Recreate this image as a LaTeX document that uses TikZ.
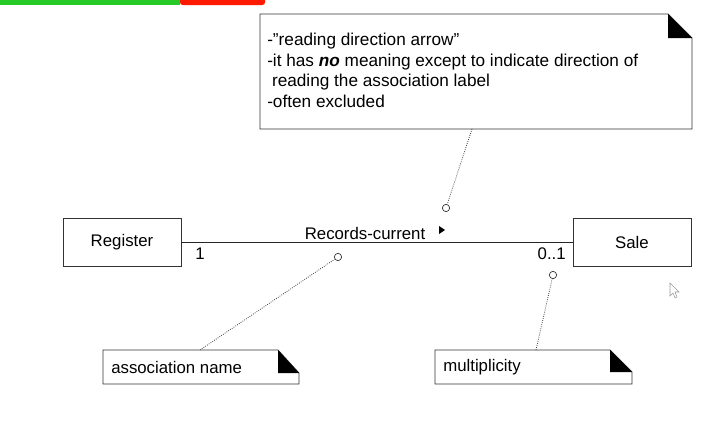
\documentclass[tikz,border=0pt]{standalone}
\usepackage{fontspec}
\setmainfont{Liberation Sans}
\begin{document}
\begin{tikzpicture}[x=0.75pt,y=-0.75pt,
    cls/.style={draw=black!80, line width=0.6pt, minimum width=88.5pt, minimum height=36pt, inner sep=0pt, font=\fontsize{12.6}{14}\selectfont},
    lbl/.style={inner sep=0pt, font=\fontsize{12.6}{14}\selectfont},
    hole/.style={circle, draw=black!80, line width=0.5pt, inner sep=0pt, minimum size=5.5pt},
    link/.style={densely dotted, line width=0.6pt, black!75}]
    \useasboundingbox (0,0) rectangle (708,439);
    % toolbar strip
    \fill[green!75!black!85!white] (0,0) rectangle (180,5);
    \fill[red!80!orange, rounded corners=2pt] (180,-3) rectangle (265,5);

    % top note
    \draw[black!80, line width=0.6pt] (260,14) -- (668,14) -- (692,38) -- (692,129) -- (260,129) -- cycle;
    \fill[black] (668,14) -- (692,38) -- (668,38) -- cycle;
    \node[lbl, anchor=north west, align=left, font=\fontsize{12.9}{15.4}\selectfont] (notetxt) at (267,33)
        {-''reading direction arrow''\\
         -it has \textbf{\textit{no}} meaning except to indicate direction of\\
         \ reading the association label\\
         -often excluded};
    \coordinate (notefoot) at (472,129);

    % classes
    \node[cls] (register) at (122,242) {Register};
    \node[cls] (sale) at (632,242) {Sale};
    \draw[black!85, line width=0.7pt] (register) -- (sale);
    \node[lbl] (multone) at (200,254) {1};
    \node[lbl, anchor=east] (multzero) at (566,254) {0..1};
    \node[lbl] (assocname) at (365,233) {Records-current};
    \fill[black] (439,226) -- (445,230) -- (439,234) -- cycle;

    % anchors on the association
    \node[hole] (dirhole) at (446,208) {};
    \node[hole] (namehole) at (338,257) {};
    \node[hole] (multhole) at (553,275) {};

    % bottom notes
    \draw[black!80, line width=0.6pt] (103,350) -- (278,350) -- (299,373) -- (299,384) -- (103,384) -- cycle;
    \fill[black] (278,350) -- (299,373) -- (278,373) -- cycle;
    \node[lbl, anchor=west] (nametxt) at (111,367) {association name};
    \coordinate (namefoot) at (200,350);

    \draw[black!80, line width=0.6pt] (435,350) -- (610,350) -- (632,372) -- (632,384) -- (435,384) -- cycle;
    \fill[black] (610,350) -- (632,372) -- (610,372) -- cycle;
    \node[lbl, anchor=west] (multtxt) at (443,367) {multiplicity};
    \coordinate (multfoot) at (536,350);

    % dotted links
    \draw[link] (notefoot) -- (dirhole);
    \draw[link] (namefoot) -- (namehole);
    \draw[link] (multfoot) -- (multhole);

    % mouse pointer
    \draw[black!40, line width=0.4pt] (670,283) -- (670,296) -- (673,293) -- (675,298) -- (677,297) -- (675,292) -- (679,292) -- cycle;
\end{tikzpicture}
\end{document}
